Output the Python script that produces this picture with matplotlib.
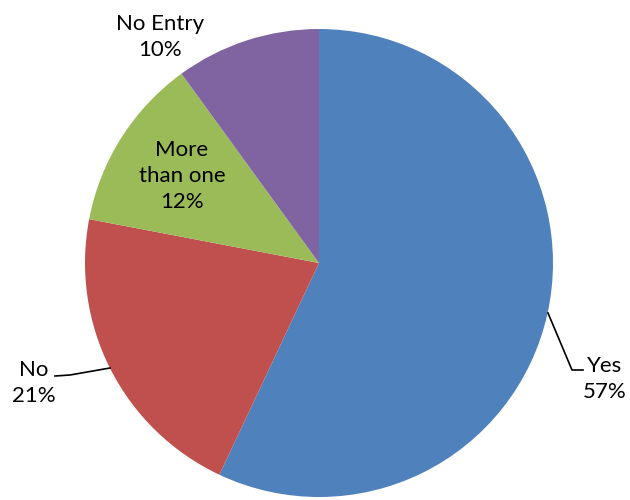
import matplotlib
matplotlib.use("Agg")
import matplotlib.pyplot as plt

labels = ["Yes", "No", "More than one", "No Entry"]
values = [57, 21, 12, 10]
colors = ["#4F81BD", "#C0504D", "#9BBB59", "#8064A2"]

plt.rcParams['font.family'] = ['Lato', 'DejaVu Sans']
fs = 16

fig = plt.figure(figsize=(6.3, 5.0), dpi=100)
ax = fig.add_axes([0, 0, 1, 1])

ax.pie(values, colors=colors, startangle=90, counterclock=False,
       center=(319, 237), radius=234, frame=True)
ax.set_xlim(0, 630)
ax.set_ylim(0, 500)
ax.set_aspect('equal')
ax.axis('off')

def pct(i):
    return "%d%%" % values[i]

# Yes label with leader line
ax.plot([548, 572, 583], [187, 130, 130], color='black', lw=1.2)
ax.text(605, 121, labels[0] + "\n" + pct(0), ha='center', va='center',
        fontsize=fs, linespacing=1.35)

# No label with leader line
ax.plot([110, 70, 55], [132, 125, 124], color='black', lw=1.2)
ax.text(34, 117, labels[1] + "\n" + pct(1), ha='center', va='center',
        fontsize=fs, linespacing=1.35)

# More than one (inside)
ax.text(182, 324, "More\nthan one\n" + pct(2), ha='center', va='center',
        fontsize=fs, linespacing=1.35)

# No Entry (outside top)
ax.text(160, 463, labels[3] + "\n" + pct(3), ha='center', va='center',
        fontsize=fs, linespacing=1.35)

fig.savefig("out.png", dpi=100)
